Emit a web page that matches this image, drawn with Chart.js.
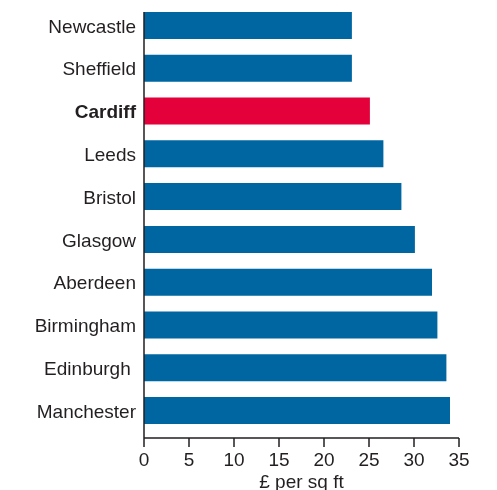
<!DOCTYPE html>
<html>
<head>
<meta charset="utf-8">
<script src="https://cdn.jsdelivr.net/npm/chart.js@4"></script>
<style>
  html, body { margin: 0; padding: 0; background: #fff; }
  #wrap { width: 497px; height: 490px; }
</style>
</head>
<body>
<div id="wrap"><canvas id="rentChart" width="497" height="490"></canvas></div>
<script>
// rents, £ per sq ft
const cities = ["Newcastle", "Sheffield", "Cardiff", "Leeds", "Bristol", "Glasgow", "Aberdeen", "Birmingham", "Edinburgh ", "Manchester"];
const rents = [23.1, 23.1, 25.1, 26.6, 28.6, 30.1, 32.0, 32.6, 33.6, 34.0];
const xTicks = [0, 5, 10, 15, 20, 25, 30, 35];
const highlight = "Cardiff";

const textColor = "#231f20";
const fontFamily = "'Liberation Sans', Arial, Helvetica, sans-serif";

// axis lines sit a little below the bars, so draw them by hand
const axisLines = {
    id: "axisLines",
    afterDraw(chart) {
        const ctx = chart.ctx;
        const area = chart.chartArea;
        const xScale = chart.scales.x;
        const axisY = area.bottom + 6;
        ctx.save();
        ctx.strokeStyle = textColor;
        ctx.lineWidth = 1.5;
        ctx.beginPath();
        ctx.moveTo(area.left, area.top + 8);
        ctx.lineTo(area.left, axisY);
        ctx.lineTo(area.right, axisY);
        xTicks.forEach(v => {
            const px = xScale.getPixelForValue(v);
            ctx.moveTo(px, axisY);
            ctx.lineTo(px, axisY + 9);
        });
        ctx.stroke();
        ctx.restore();
    }
};

const ctx = document.getElementById("rentChart").getContext("2d");
new Chart(ctx, {
    type: "bar",
    data: {
        labels: cities,
        datasets: [{
            data: rents,
            backgroundColor: cities.map(c => c === highlight ? "#e4003b" : "#0066a1"),
            borderWidth: 0,
            categoryPercentage: 1,
            barPercentage: 0.63
        }]
    },
    options: {
        indexAxis: "y",
        responsive: false,
        animation: false,
        layout: { padding: { top: 4, right: 38, bottom: 0, left: 0 } },
        plugins: {
            legend: { display: false },
            tooltip: { enabled: false }
        },
        scales: {
            x: {
                min: 0,
                max: 35,
                afterBuildTicks: scale => { scale.ticks = xTicks.map(v => ({ value: v })); },
                afterFit: scale => {
                    scale.height = 58;
                    scale.paddingLeft = 0;
                    scale.paddingRight = 0;
                },
                grid: { display: false, drawTicks: false, drawOnChartArea: false },
                border: { display: false },
                ticks: {
                    padding: 17,
                    color: textColor,
                    font: { family: fontFamily, size: 19 }
                },
                title: {
                    display: true,
                    text: "£ per sq ft",
                    color: textColor,
                    font: { family: fontFamily, size: 19, lineHeight: 1.2 },
                    padding: { top: 0, bottom: -4 }
                }
            },
            y: {
                afterFit: scale => {
                    scale.width = 144;
                    scale.paddingTop = 0;
                    scale.paddingBottom = 0;
                },
                grid: { display: false, drawTicks: false, drawOnChartArea: false },
                border: { display: false },
                ticks: {
                    padding: 8,
                    labelOffset: 2,
                    color: textColor,
                    font: c => ({
                        family: fontFamily,
                        size: 19,
                        weight: cities[c.index] === highlight ? "bold" : "normal"
                    })
                }
            }
        }
    },
    plugins: [axisLines]
});
</script>
</body>
</html>
